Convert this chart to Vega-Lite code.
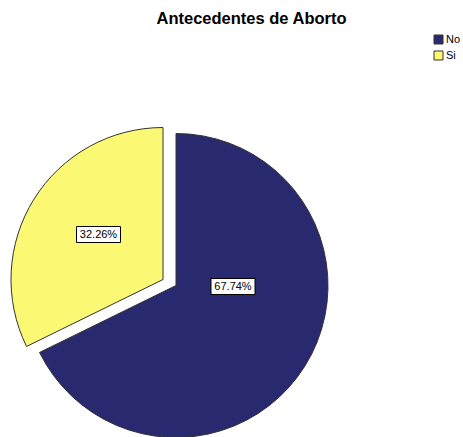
{
  "$schema": "https://vega.github.io/schema/vega-lite/v6.json",
  "autosize": "none",
  "width": 306,
  "height": 303,
  "padding": {"left": 23, "top": 134, "right": 134, "bottom": 0},
  "background": "white",
  "title": {
    "text": "Antecedentes de Aborto",
    "anchor": "start",
    "dx": 147.5,
    "offset": 7,
    "fontSize": 16.5,
    "font": "Liberation Sans",
    "fontWeight": "bold",
    "color": "#000000"
  },
  "data": {
    "values": [
      {"cat": "No", "pct": 67.74, "label": "67.74%"},
      {"cat": "Si", "pct": 32.26, "label": "32.26%"}
    ]
  },
  "layer": [
    {
      "mark": {"type": "arc", "outerRadius": 152, "stroke": "#333333", "strokeWidth": 1},
      "encoding": {
        "theta": {"field": "pct", "type": "quantitative", "stack": true},
        "color": {
          "field": "cat",
          "type": "nominal",
          "scale": {"domain": ["No", "Si"], "range": ["#29296f", "#fbf873"]},
          "legend": {
            "title": null,
            "orient": "none",
            "legendX": 410,
            "legendY": -100,
            "symbolType": "square",
            "symbolSize": 81,
            "symbolStrokeColor": "#222222",
            "symbolStrokeWidth": 1,
            "symbolOpacity": 1,
            "labelFont": "Liberation Sans",
            "labelFontSize": 11,
            "labelColor": "#000000",
            "labelOffset": 2,
            "rowPadding": 3
          }
        },
        "opacity": {"condition": {"test": "datum.cat === 'Si'", "value": 0}, "value": 1}
      }
    },
    {
      "mark": {"type": "arc", "outerRadius": 152, "stroke": "#333333", "strokeWidth": 1, "xOffset": -13, "yOffset": -6},
      "encoding": {
        "theta": {"field": "pct", "type": "quantitative", "stack": true},
        "color": {"field": "cat", "type": "nominal"},
        "opacity": {"condition": {"test": "datum.cat === 'No'", "value": 0}, "value": 1}
      }
    },
    {
      "transform": [{"filter": "datum.cat === 'No'"}],
      "layer": [
        {
          "mark": {"type": "point", "shape": "M-1,-0.364H1V0.364H-1Z", "size": 1936, "filled": true, "fill": "white", "stroke": "#000000", "strokeWidth": 1, "opacity": 1, "xOffset": 57, "yOffset": 1},
          "encoding": {}
        },
        {
          "mark": {"type": "text", "font": "Liberation Sans", "fontSize": 11, "color": "#000000", "align": "center", "baseline": "middle", "xOffset": 57, "yOffset": 1},
          "encoding": {"text": {"field": "label"}}
        }
      ]
    },
    {
      "transform": [{"filter": "datum.cat === 'Si'"}],
      "layer": [
        {
          "mark": {"type": "point", "shape": "M-1,-0.364H1V0.364H-1Z", "size": 1936, "filled": true, "fill": "white", "stroke": "#000000", "strokeWidth": 1, "opacity": 1, "xOffset": -77.5, "yOffset": -51},
          "encoding": {}
        },
        {
          "mark": {"type": "text", "font": "Liberation Sans", "fontSize": 11, "color": "#000000", "align": "center", "baseline": "middle", "xOffset": -77.5, "yOffset": -51},
          "encoding": {"text": {"field": "label"}}
        }
      ]
    }
  ],
  "config": {"view": {"stroke": null}}
}
